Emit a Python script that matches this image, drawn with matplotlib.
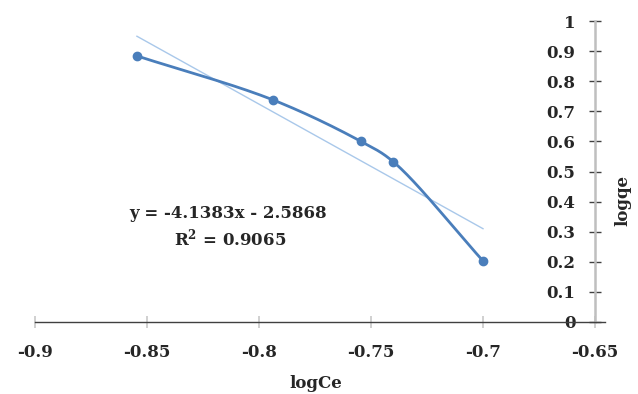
import numpy as np
import matplotlib

matplotlib.use("Agg")
import matplotlib.pyplot as plt  # noqa: E402

# data
log_ce = [-0.8545, -0.7938, -0.7545, -0.7400, -0.7000]
log_qe = [0.884, 0.738, 0.600, 0.532, 0.203]
slope, intercept = -4.1383, -2.5868
eq_text = "y = -4.1383x - 2.5868"
r2_text = "R$^\\mathbf{2}$ = 0.9065"
x_ticks = [-0.9, -0.85, -0.8, -0.75, -0.7, -0.65]
y_ticks = [0, 0.1, 0.2, 0.3, 0.4, 0.5, 0.6, 0.7, 0.8, 0.9, 1]

_LINE = "#4a7ebb"
_TREND = "#a9c8ea"
_TXT = "#262626"
_FONT = "DejaVu Serif"
_FS = 12

plt.rcParams["mathtext.fontset"] = "dejavuserif"


def _smooth(xs, ys, sx=2240.0, sy=301.0, n=40):
    """Centripetal Catmull-Rom through the points, done in screen-like units."""
    p = np.column_stack([np.asarray(xs) * sx, np.asarray(ys) * sy])
    p = np.vstack([2 * p[0] - p[1], p, 2 * p[-1] - p[-2]])
    out = []
    for i in range(1, len(p) - 2):
        p0, p1, p2, p3 = p[i - 1], p[i], p[i + 1], p[i + 2]
        t0 = 0.0
        t1 = t0 + np.linalg.norm(p1 - p0) ** 0.5
        t2 = t1 + np.linalg.norm(p2 - p1) ** 0.5
        t3 = t2 + np.linalg.norm(p3 - p2) ** 0.5
        t = np.linspace(t1, t2, n)[:, None]
        a1 = (t1 - t) / (t1 - t0) * p0 + (t - t0) / (t1 - t0) * p1
        a2 = (t2 - t) / (t2 - t1) * p1 + (t - t1) / (t2 - t1) * p2
        a3 = (t3 - t) / (t3 - t2) * p2 + (t - t2) / (t3 - t2) * p3
        b1 = (t2 - t) / (t2 - t0) * a1 + (t - t0) / (t2 - t0) * a2
        b2 = (t3 - t) / (t3 - t1) * a2 + (t - t1) / (t3 - t1) * a3
        out.append((t2 - t) / (t2 - t1) * b1 + (t - t1) / (t2 - t1) * b2)
    c = np.vstack(out)
    return c[:, 0] / sx, c[:, 1] / sy


fig = plt.figure(figsize=(6.38, 3.94), dpi=100)
ax = fig.add_axes([35 / 638, 72 / 394, 570 / 638, 301 / 394])

# trend line
tx = np.array([log_ce[0], log_ce[-1]])
ax.plot(tx, slope * tx + intercept, color=_TREND, lw=1.0, zorder=2)

cx, cy = _smooth(log_ce, log_qe)
ax.plot(cx, cy, color=_LINE, lw=2.0, zorder=3)
ax.scatter(log_ce, log_qe, s=36, color=_LINE, zorder=4)

ax.set_xlim(-0.9, -0.9 + 0.25 * 570 / 560)
ax.set_ylim(0, 1)

for side in ("top", "right"):
    ax.spines[side].set_visible(False)
ax.spines["left"].set_position(("data", -0.65))
ax.spines["left"].set_color("#bfbfbf")
ax.spines["left"].set_linewidth(1.8)
ax.spines["bottom"].set_color("#404040")
ax.spines["bottom"].set_linewidth(1.0)

ax.set_xticks(x_ticks)
ax.set_xticklabels([f"{v:g}" for v in x_ticks])
ax.set_yticks(y_ticks)
ax.set_yticklabels([f"{v:g}" for v in y_ticks])
ax.tick_params(axis="x", direction="inout", length=9, width=1.2, color="#c8c8c8", pad=11)
ax.tick_params(axis="y", direction="inout", length=9, width=1.0, color="#404040", pad=9.5)
for lab in ax.get_xticklabels() + ax.get_yticklabels():
    lab.set_fontfamily(_FONT)
    lab.set_fontweight("bold")
    lab.set_fontsize(_FS)
    lab.set_color(_TXT)

fig.text(316 / 638, 1 - 383 / 394, "logCe", ha="center", va="center",
         fontfamily=_FONT, fontweight="bold", fontsize=_FS, color=_TXT)
fig.text(623 / 638, 1 - 200 / 394, "logqe", rotation=90, ha="center", va="center",
         fontfamily=_FONT, fontweight="bold", fontsize=_FS, color=_TXT)

fig.text(228 / 638, 1 - 213 / 394, eq_text, ha="center", va="center",
         fontfamily=_FONT, fontweight="bold", fontsize=_FS, color=_TXT)
fig.text(230 / 638, 1 - 238 / 394, r2_text, ha="center", va="center",
         fontfamily=_FONT, fontweight="bold", fontsize=_FS, color=_TXT)

fig.savefig("out.png", dpi=100)
